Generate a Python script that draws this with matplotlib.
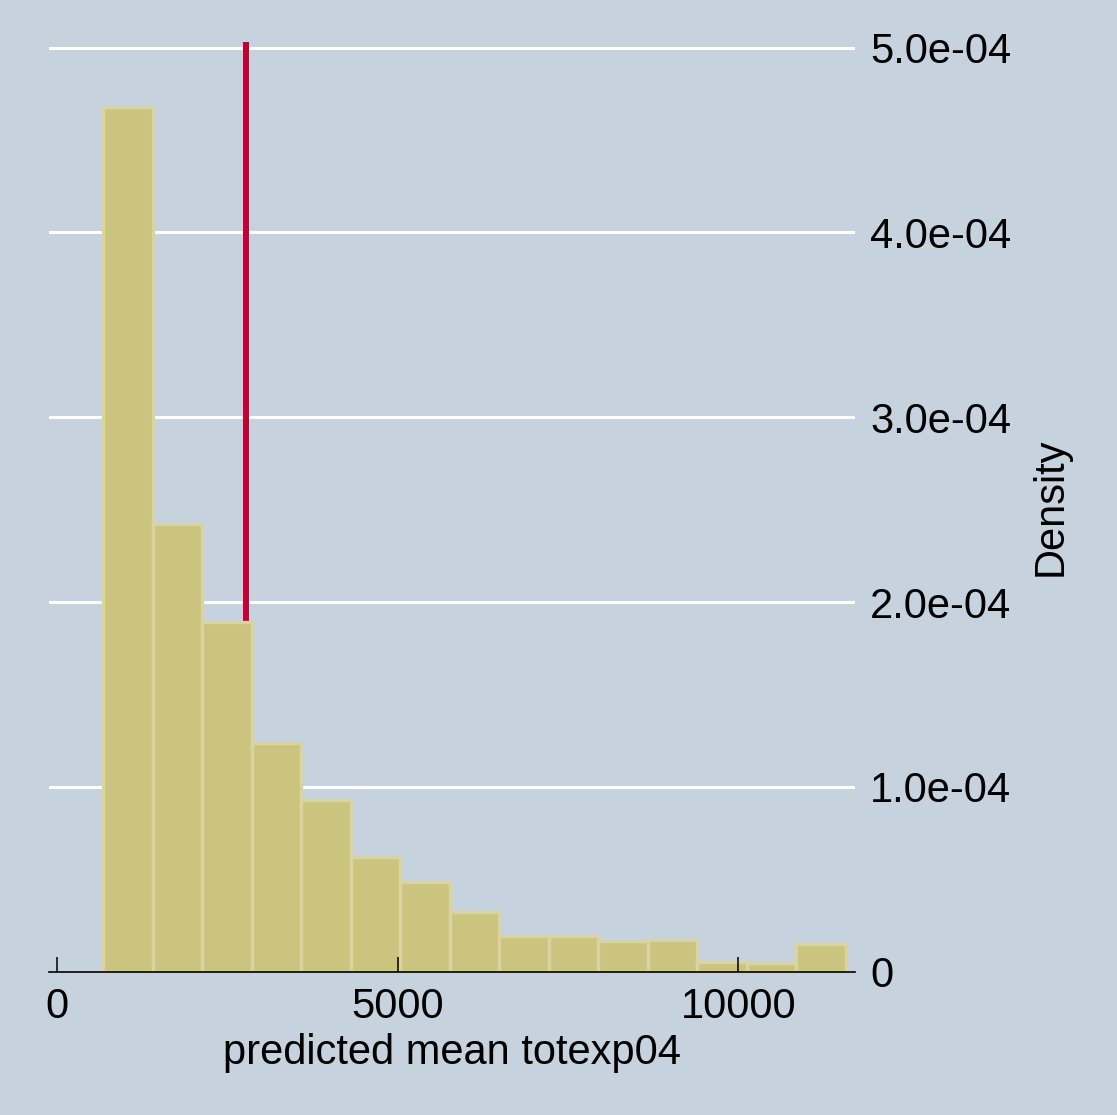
import numpy as np
import matplotlib
matplotlib.use("Agg")
import matplotlib.pyplot as plt

# ---- data ----
bin_start = 679.0
bin_width = 726.7
densities = [4.68e-4, 2.42e-4, 1.893e-4, 1.24e-4, 0.929e-4, 0.620e-4, 0.485e-4,
             0.321e-4, 0.195e-4, 0.195e-4, 0.165e-4, 0.174e-4, 0.054e-4, 0.048e-4, 0.149e-4]
mean_line = 2777.0
x_ticks = [0, 5000, 10000]
x_tick_labels = ["0", "5000", "10000"]
y_ticks = [0, 1e-4, 2e-4, 3e-4, 4e-4, 5e-4]
y_tick_labels = ["0", "1.0e-04", "2.0e-04", "3.0e-04", "4.0e-04", "5.0e-04"]
x_label = "predicted mean totexp04"
y_label = "Density"

bg = "#c6d3df"
fill = "#cbc47f"
edge = "#d9d49f"
red = "#c20034"

plt.rcParams['font.family'] = ['Liberation Sans', 'DejaVu Sans']

fig = plt.figure(figsize=(11.17, 11.15), dpi=100, facecolor=bg)
ax = fig.add_axes([49/1117, 143.3/1115, (855-49)/1117, (971.7-42)/1115])
ax.set_facecolor(bg)
ax.set_axisbelow(False)

lefts = bin_start + bin_width * np.arange(len(densities))
ax.bar(lefts, densities, width=bin_width, align='edge', color=fill,
       edgecolor=edge, linewidth=2.4, zorder=2.0)

ax.axvline(mean_line, color=red, linewidth=4.3, zorder=1.8)

ax.set_xlim(-113, 11712)
ax.set_ylim(0, 5.03e-4)

# grid
for yv in y_ticks[1:]:
    ax.axhline(yv, color="white", linewidth=2.2, zorder=1.5)

for s in ["top", "left", "right"]:
    ax.spines[s].set_visible(False)
ax.spines["bottom"].set_linewidth(1.2)
ax.spines["bottom"].set_color("black")
ax.spines["bottom"].set_zorder(5)

ax.set_xticks(x_ticks)
ax.set_xticklabels(x_tick_labels, fontsize=30)
ax.tick_params(axis='x', direction='in', length=11, width=1.1, color='black', pad=11)

ax.yaxis.tick_right()
ax.yaxis.set_label_position("right")
ax.set_yticks(y_ticks)
ax.set_yticklabels(y_tick_labels, fontsize=30)
ax.tick_params(axis='y', length=0, pad=11)

ax.set_xlabel(x_label, fontsize=30, labelpad=4)
ax.set_ylabel(y_label, fontsize=30, labelpad=14)

fig.savefig("out.png", dpi=100, facecolor=bg)
